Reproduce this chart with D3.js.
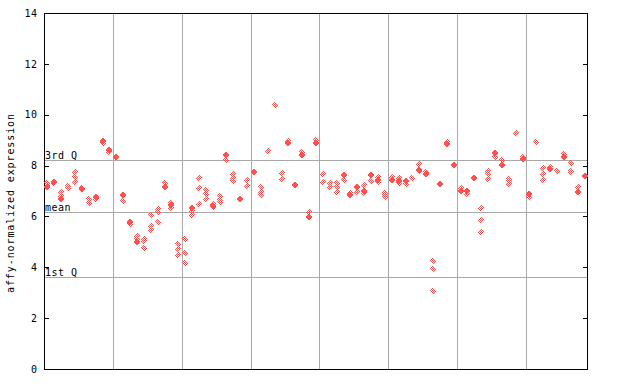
<!DOCTYPE html>
<html>
<head>
<meta charset="utf-8">
<script src="https://cdn.jsdelivr.net/npm/d3@7"></script>
<style>
  html, body { margin: 0; padding: 0; background: #fff; }
  svg { display: block; }
  text { font-family: "DejaVu Sans Mono", monospace; }
</style>
</head>
<body>
<svg id="chart" width="640" height="384"></svg>
<script>
// ---- data ----
const groupSizes = [10, 10, 10, 10, 10, 10, 10, 9];
const yTicks = [0, 2, 4, 6, 8, 10, 12, 14];
const refLines = [
  { label: "3rd Q", value: 8.2 },
  { label: "mean", value: 6.18 },
  { label: "1st Q", value: 3.6 }
];
const yLabel = "affy-normalized expression";
// solid diamonds (one per sample, null if none)
const filledValues = [
  7.15, 7.37, 6.7, null, null, 7.06, null, 6.77, 8.95, 8.6,
  8.33, 6.83, 5.78, 4.98, null, null, null, 7.15, 6.43, null,
  null, 6.33, null, null, 6.42, null, 8.4, null, 6.69, null,
  7.74, null, null, null, null, 8.87, 7.22, 8.43, 5.97, 8.87,
  null, null, null, 7.63, 6.85, 7.15, 6.99, 7.63, 7.44, null,
  7.45, 7.38, 7.41, null, 7.83, 7.67, null, 7.28, 8.85, 8.04,
  6.99, 6.99, 7.52, null, null, 8.48, 8.01, null, null, 8.24,
  6.89, null, null, 7.87, null, 8.33, null, 6.95, 7.6
];
// dithered diamonds (replicates per sample)
const openValues = [
  [7.3, 7.2], [7.3], [6.95, 6.8], [7.2, 7.1], [7.75, 7.57, 7.37], [7.12], [6.7, 6.52], [6.67], [8.87], [8.53],
  [], [6.61], [5.69], [5.24, 5.11], [5.12, 5.05, 4.77], [6.04, 5.61, 5.45], [6.3, 6.17, 5.78], [7.33], [6.54, 6.34], [4.93, 4.73, 4.47],
  [5.12, 4.57, 4.18], [6.22, 6.07], [7.52, 7.12, 6.47], [7.05, 6.89, 6.69], [6.5, 6.37], [6.82, 6.65, 6.56], [8.22], [7.67, 7.52, 7.41], [], [7.44, 7.18],
  [], [7.15, 6.98, 6.85], [8.59], [10.39], [7.71, 7.48], [8.98], [], [8.52], [6.17], [9.02],
  [7.67, 7.35], [7.31, 7.15], [7.31, 7.15, 6.95], [7.44], [6.94], [6.95], [7.22, 6.91], [7.38], [7.54, 7.35], [6.93, 6.85, 6.76],
  [7.54], [7.5, 7.31], [7.28], [7.52], [8.07, 7.78], [7.74], [4.24, 3.95, 3.05], [], [8.91], [],
  [7.11], [6.89], [], [6.34, 5.87, 5.4], [7.8, 7.65, 7.48], [8.33], [8.22], [7.48, 7.38, 7.28], [9.28], [8.33],
  [6.76], [8.94], [7.91, 7.67, 7.44], [7.96], [7.8], [8.46], [8.09, 7.8, 7.74], [7.15], []
];

// ---- layout ----
const M = { left: 44, right: 588, top: 13, bottom: 369 };
const red = "#ff4f4f";
const gridColor = "#a8a8a8";
const svg = d3.select("#chart");

const nSamples = filledValues.length;
const x = d3.scaleBand().domain(d3.range(nSamples)).range([M.left, M.right]).padding(0);
const y = d3.scaleLinear().domain([0, 14]).range([M.bottom, M.top]);

// dither pattern
const defs = svg.append("defs");
const pat = defs.append("pattern").attr("id", "dither")
  .attr("patternUnits", "userSpaceOnUse").attr("width", 2).attr("height", 2);
pat.append("rect").attr("x", 0).attr("y", 0).attr("width", 1).attr("height", 1).attr("fill", red);
pat.append("rect").attr("x", 1).attr("y", 1).attr("width", 1).attr("height", 1).attr("fill", red);

// group separators
let acc = 0;
const boundaries = [];
groupSizes.slice(0, -1).forEach(s => { acc += s; boundaries.push(acc); });
svg.append("g").selectAll("line").data(boundaries).join("line")
  .attr("x1", d => Math.round(x(d)) + 0.5).attr("x2", d => Math.round(x(d)) + 0.5)
  .attr("y1", M.top).attr("y2", M.bottom)
  .attr("stroke", gridColor).attr("stroke-width", 1);

// reference lines
const rl = svg.append("g");
rl.selectAll("line").data(refLines).join("line")
  .attr("x1", M.left).attr("x2", M.right)
  .attr("y1", d => Math.round(y(d.value)) + 0.5).attr("y2", d => Math.round(y(d.value)) + 0.5)
  .attr("stroke", gridColor).attr("stroke-width", 1);
rl.selectAll("text").data(refLines).join("text")
  .attr("x", M.left + 1).attr("y", d => Math.round(y(d.value)) - 1)
  .attr("font-size", 10).attr("letter-spacing", 0.5).attr("fill", "#000")
  .text(d => d.label);

// axes
const leftAxis = d3.axisLeft(y).tickValues(yTicks).tickSize(0).tickPadding(6);
const gL = svg.append("g").attr("transform", `translate(${M.left - 0.5},0)`).call(leftAxis);
gL.select(".domain").remove();
gL.selectAll("text").attr("font-size", 10).attr("letter-spacing", 0.5)
  .attr("font-family", "DejaVu Sans Mono, monospace").attr("fill", "#000");
svg.append("g").selectAll("line").data(yTicks).join("line")
  .attr("x1", M.left).attr("x2", M.left + 5)
  .attr("y1", d => Math.round(y(d)) + 0.5).attr("y2", d => Math.round(y(d)) + 0.5)
  .attr("stroke", "#000");
svg.append("g").selectAll("line").data(yTicks).join("line")
  .attr("x1", M.right - 5).attr("x2", M.right)
  .attr("y1", d => Math.round(y(d)) + 0.5).attr("y2", d => Math.round(y(d)) + 0.5)
  .attr("stroke", "#000");

// frame
svg.append("rect")
  .attr("x", M.left + 0.5).attr("y", M.top + 0.5)
  .attr("width", M.right - M.left - 1).attr("height", M.bottom - M.top)
  .attr("fill", "none").attr("stroke", "#000").attr("stroke-width", 1);

// y label
svg.append("text")
  .attr("transform", `translate(14,${(M.top + M.bottom) / 2 + 12}) rotate(-90)`)
  .attr("text-anchor", "middle").attr("font-size", 10).attr("letter-spacing", 0.9)
  .attr("fill", "#000").text(yLabel);

// points
const diamond = (cx, cy) => {
  cx = Math.round(cx); cy = Math.round(cy);
  return `M${cx},${cy - 3.5}L${cx + 3.5},${cy}L${cx},${cy + 3.5}L${cx - 3.5},${cy}Z`;
};
const openPts = [];
openValues.forEach((arr, i) => arr.forEach(v => openPts.push({ i, v })));
const filledPts = [];
filledValues.forEach((v, i) => { if (v !== null) filledPts.push({ i, v }); });
const cx = i => x(i) + x.bandwidth() / 2;

svg.append("g").selectAll("path").data(openPts).join("path")
  .attr("d", d => diamond(cx(d.i), y(d.v)))
  .attr("fill", "url(#dither)").attr("shape-rendering", "crispEdges");
svg.append("g").selectAll("path").data(filledPts).join("path")
  .attr("d", d => diamond(cx(d.i), y(d.v)))
  .attr("fill", red).attr("shape-rendering", "crispEdges");
</script>
</body>
</html>
